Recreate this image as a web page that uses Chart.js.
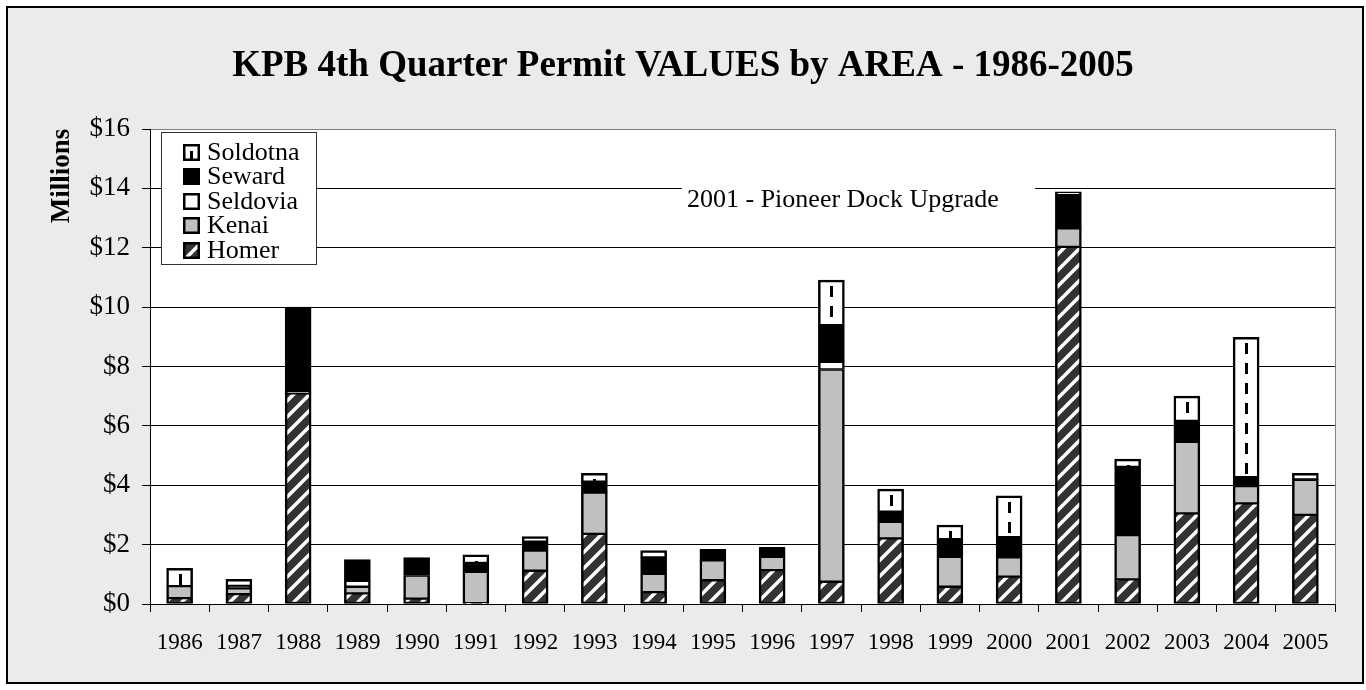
<!DOCTYPE html>
<html>
<head>
<meta charset="utf-8">
<script src="https://cdn.jsdelivr.net/npm/chart.js@4.4.1/dist/chart.umd.min.js"></script>
<style>
  html, body { margin: 0; padding: 0; background: #fff; }
  canvas { display: block; }
</style>
</head>
<body>
<canvas id="permitChart" width="1366" height="690"></canvas>
<script>
const years = ['1986', '1987', '1988', '1989', '1990', '1991', '1992', '1993', '1994', '1995',
               '1996', '1997', '1998', '1999', '2000', '2001', '2002', '2003', '2004', '2005'];
// values in millions of dollars
const homer    = [0.20, 0.33, 7.10, 0.36, 0.18, 0.03, 1.12, 2.36, 0.40, 0.80, 1.14, 0.75, 2.21, 0.58, 0.92, 12.03, 0.83, 3.05, 3.39, 3.00];
const kenai    = [0.40, 0.20, 0.05, 0.22, 0.78, 1.05, 0.68, 1.39, 0.62, 0.67, 0.45, 7.15, 0.56, 1.01, 0.65, 0.62, 1.49, 2.41, 0.58, 1.18];
const seldovia = [0.00, 0.00, 0.00, 0.20, 0.00, 0.00, 0.00, 0.00, 0.00, 0.00, 0.00, 0.26, 0.00, 0.00, 0.00, 0.00, 0.00, 0.00, 0.00, 0.00];
const seward   = [0.00, 0.08, 2.85, 0.72, 0.60, 0.30, 0.30, 0.37, 0.55, 0.37, 0.32, 1.23, 0.34, 0.59, 0.68, 1.12, 2.30, 0.71, 0.30, 0.02];
const soldotna = [0.60, 0.22, 0.00, 0.00, 0.00, 0.28, 0.17, 0.28, 0.23, 0.00, 0.00, 1.52, 0.76, 0.48, 1.39, 0.11, 0.26, 0.83, 4.71, 0.20];
const yTicks = [0, 2, 4, 6, 8, 10, 12, 14, 16];

const serif = "'Liberation Serif', 'Times New Roman', serif";
const series = [homer, kenai, seldovia, seward, soldotna];

// homer: dark hatch with white diagonal stripes
function makeHatch() {
    var t = document.createElement('canvas');
    t.width = 16; t.height = 16;
    var c = t.getContext('2d');
    c.fillStyle = '#333';
    c.fillRect(0, 0, 16, 16);
    c.strokeStyle = '#fff';
    c.lineWidth = 3.5;
    c.beginPath();
    c.moveTo(-8, 8); c.lineTo(8, -8);
    c.moveTo(0, 16); c.lineTo(16, 0);
    c.moveTo(8, 24); c.lineTo(24, 8);
    c.stroke();
    return t;
}

// soldotna: white with short vertical black dashes down the middle of the bar
function makeDashes() {
    var t = document.createElement('canvas');
    t.width = 26; t.height = 20;
    var c = t.getContext('2d');
    c.fillStyle = '#fff';
    c.fillRect(0, 0, 26, 20);
    c.fillStyle = '#000';
    c.fillRect(12, 6, 3, 11);
    return t;
}

const hatchTile = makeHatch();
const dashTile = makeDashes();
const ctx = document.getElementById('permitChart').getContext('2d');
const hatchPattern = ctx.createPattern(hatchTile, 'repeat');

function stackTop(i) {
    var s = 0;
    series.forEach(function (arr) { s += arr[i]; });
    return s;
}

function soldotnaFill(c) {
    var p = c.chart.ctx.createPattern(dashTile, 'repeat');
    var xs = c.chart.scales && c.chart.scales.x;
    var ys = c.chart.scales && c.chart.scales.y;
    if (xs && ys && c.dataIndex !== undefined) {
        var px = Math.round(xs.getPixelForValue(c.dataIndex)) - 13;
        var py = Math.round(ys.getPixelForValue(stackTop(c.dataIndex)));
        p.setTransform(new DOMMatrix([1, 0, 0, 1, px, py]));
    }
    return p;
}

function segBorder(c) {
    var i = c.dataIndex, d = c.datasetIndex;
    if (i === undefined) return 2;
    var above = false;
    for (var k = d + 1; k < series.length; k++) {
        if (series[k][i] > 0) above = true;
    }
    return { left: 2.5, right: 2.5, top: above ? 1.5 : 2.5, bottom: d === 0 ? 2 : 1.5 };
}

const backdrop = {
    id: 'backdrop',
    beforeDraw: function (chart) {
        var c = chart.ctx, a = chart.chartArea;
        c.save();
        c.fillStyle = '#fff';
        c.fillRect(0, 0, chart.width, chart.height);
        c.fillStyle = '#ebebeb';
        c.fillRect(7, 7, 1356, 676);
        c.strokeStyle = '#000';
        c.lineWidth = 2;
        c.strokeRect(7, 7, 1356, 676);
        c.fillStyle = '#fff';
        c.fillRect(a.left, a.top, a.right - a.left, a.bottom - a.top);
        c.restore();
    }
};

const legendItems = [
    { label: 'Soldotna', kind: 'dash' },
    { label: 'Seward', kind: 'fill', color: '#000' },
    { label: 'Seldovia', kind: 'fill', color: '#fff' },
    { label: 'Kenai', kind: 'fill', color: '#c0c0c0' },
    { label: 'Homer', kind: 'hatch' }
];

const overlay = {
    id: 'overlay',
    afterDraw: function (chart) {
        var c = chart.ctx, a = chart.chartArea;
        c.save();
        // right edge of the plot
        c.strokeStyle = '#808080';
        c.lineWidth = 1;
        c.beginPath();
        c.moveTo(a.right + 0.5, a.top);
        c.lineTo(a.right + 0.5, a.bottom);
        c.stroke();

        // title
        c.fillStyle = '#000';
        c.font = 'bold 37px ' + serif;
        c.textAlign = 'center';
        c.textBaseline = 'alphabetic';
        c.fillText('KPB 4th Quarter Permit VALUES by AREA - 1986-2005', 683, 76);

        // y axis title
        c.save();
        c.translate(62, 176);
        c.rotate(-Math.PI / 2);
        c.font = 'bold 27px ' + serif;
        c.textBaseline = 'middle';
        c.fillText('Millions', 0, 0);
        c.restore();

        // annotation
        c.fillStyle = '#fff';
        c.fillRect(682, 178, 353, 44);
        c.fillStyle = '#000';
        c.font = '26px ' + serif;
        c.textAlign = 'left';
        c.fillText('2001 - Pioneer Dock Upgrade', 687, 207);

        // legend
        c.fillStyle = '#fff';
        c.fillRect(161.5, 132.5, 155, 132);
        c.strokeStyle = '#333';
        c.lineWidth = 1;
        c.strokeRect(161.5, 132.5, 155, 132);
        c.font = '26px ' + serif;
        legendItems.forEach(function (it, k) {
            var cy = 152 + k * 24.4;
            var x = 183, y = Math.round(cy - 8), s = 17;
            if (it.kind === 'hatch') {
                c.fillStyle = '#333';
                c.fillRect(x, y, s, s);
                c.save();
                c.beginPath();
                c.rect(x, y, s, s);
                c.clip();
                c.strokeStyle = '#fff';
                c.lineWidth = 3.5;
                c.beginPath();
                c.moveTo(x + 2, y + s);
                c.lineTo(x + s, y + 2);
                c.stroke();
                c.restore();
            } else if (it.kind === 'dash') {
                c.fillStyle = '#fff';
                c.fillRect(x, y, s, s);
                c.fillStyle = '#000';
                c.fillRect(x + 7, y + 7, 3, 9);
            } else {
                c.fillStyle = it.color;
                c.fillRect(x, y, s, s);
            }
            c.strokeStyle = '#000';
            c.lineWidth = 2.5;
            c.strokeRect(x + 1.25, y + 1.25, s - 2.5, s - 2.5);
            c.fillStyle = '#000';
            c.textAlign = 'left';
            c.fillText(it.label, 207, cy + 8);
        });
        c.restore();
    }
};

new Chart(ctx, {
    type: 'bar',
    data: {
        labels: years,
        datasets: [
            { label: 'Homer', data: homer, backgroundColor: hatchPattern },
            { label: 'Kenai', data: kenai, backgroundColor: '#c0c0c0' },
            { label: 'Seldovia', data: seldovia, backgroundColor: '#ffffff' },
            { label: 'Seward', data: seward, backgroundColor: '#000000' },
            { label: 'Soldotna', data: soldotna, backgroundColor: soldotnaFill }
        ]
    },
    options: {
        responsive: false,
        animation: false,
        layout: { padding: { top: 129, right: 31, left: 0, bottom: 0 } },
        datasets: {
            bar: {
                barThickness: 26,
                borderColor: '#000',
                borderWidth: segBorder,
                borderSkipped: false
            }
        },
        plugins: {
            legend: { display: false },
            tooltip: { enabled: false },
            title: { display: false }
        },
        scales: {
            x: {
                stacked: true,
                grid: { drawOnChartArea: false, color: '#000', tickLength: 8, offset: true },
                border: { color: '#000', width: 1 },
                ticks: { color: '#000', font: { family: serif, size: 23 }, padding: 17, maxRotation: 0, autoSkip: false },
                afterFit: function (s) { s.height = 86; }
            },
            y: {
                stacked: true,
                min: 0,
                max: 16,
                afterBuildTicks: function (s) { s.ticks = yTicks.map(function (v) { return { value: v }; }); },
                ticks: {
                    color: '#000',
                    font: { family: serif, size: 27 },
                    padding: 12,
                    callback: function (v) { return '$' + v; }
                },
                grid: {
                    color: function (c) { return c.tick && c.tick.value === 16 ? '#808080' : '#000'; },
                    tickColor: '#000',
                    tickLength: 8
                },
                border: { color: '#000', width: 1 },
                afterFit: function (s) { s.width = 150; }
            }
        }
    },
    plugins: [backdrop, overlay]
});
</script>
</body>
</html>
